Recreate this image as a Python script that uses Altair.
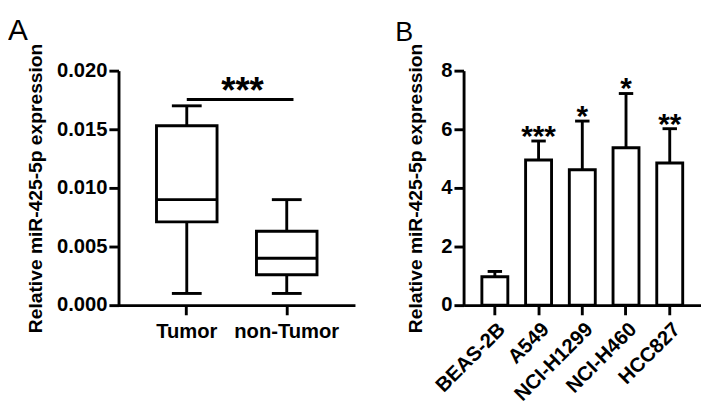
import altair as alt
import pandas as pd

# ---- Panel A: box plot summary ----
groups_a = ["Tumor", "non-Tumor"]
a_min = [0.001, 0.001]
a_q1 = [0.0071, 0.0026]
a_median = [0.009, 0.004]
a_q3 = [0.0153, 0.0063]
a_max = [0.017, 0.009]
sig_a_y = [0.01754]
star_a_y = [0.0190]
star_a_label = ["***"]

# ---- Panel B: bar chart with error bars ----
cells_b = ["BEAS-2B", "A549", "NCI-H1299", "NCI-H460", "HCC827"]
b_mean = [0.97, 4.95, 4.62, 5.37, 4.85]
b_upper = [1.15, 5.6, 6.28, 7.22, 6.02]
b_stars = ["", "***", "*", "*", "**"]

YTITLE = "Relative miR-425-5p expression"
H = 244
FONT = "Liberation Sans"
FS = 21

df_a = pd.DataFrame(dict(group=groups_a, lo=a_min, q1=a_q1, med=a_median, q3=a_q3, hi=a_max))
df_sig = pd.DataFrame(dict(group=[groups_a[0]], group2=[groups_a[1]], y=sig_a_y, sy=star_a_y, lab=star_a_label))

xa_scale = alt.Scale(domain=groups_a, paddingInner=0.365, paddingOuter=0.365)
ya_scale = alt.Scale(domain=[0, 0.02], nice=False)


def xa():
    return alt.X("group:N", scale=xa_scale, sort=groups_a,
                 axis=alt.Axis(title=None, labelAngle=0, labelPadding=7))


def ya(field):
    return alt.Y(field, scale=ya_scale, title=YTITLE,
                 axis=alt.Axis(values=[0, 0.005, 0.01, 0.015, 0.02], format=".3f",
                               title=YTITLE, titlePadding=12))


base_a = alt.Chart(df_a)
box = base_a.mark_bar(width=63, fill="white", stroke="black", strokeWidth=3).encode(
    x=xa(), y=ya("q1:Q"), y2="q3:Q")
wlo = base_a.mark_rule(color="black", strokeWidth=3).encode(x=xa(), y=ya("lo:Q"), y2="q1:Q")
whi = base_a.mark_rule(color="black", strokeWidth=3).encode(x=xa(), y=ya("q3:Q"), y2="hi:Q")
cap_lo = base_a.mark_tick(color="black", size=31, thickness=3, opacity=1).encode(x=xa(), y=ya("lo:Q"))
cap_hi = base_a.mark_tick(color="black", size=31, thickness=3, opacity=1).encode(x=xa(), y=ya("hi:Q"))
med = base_a.mark_tick(color="black", size=63, thickness=3, opacity=1).encode(x=xa(), y=ya("med:Q"))
sig_line = alt.Chart(df_sig).mark_rule(color="black", strokeWidth=3, x2Offset=7).encode(
    x=xa(), x2="group2:N", y=ya("y:Q"))
sig_txt = alt.Chart(df_sig).mark_text(fontSize=38, fontWeight="bold", font=FONT, color="black",
                                      baseline="alphabetic", align="center", dy=21, xOffset=58).encode(
    x=xa(), y=ya("sy:Q"), text="lab:N")

panel_a = alt.layer(box, wlo, whi, cap_lo, cap_hi, med, sig_line, sig_txt).properties(
    width=246, height=H,
    title=alt.Title("A", anchor="start", frame="group", dx=-115, dy=-8, fontSize=31,
                    fontWeight="normal", font=FONT, baseline="top", offset=-12, color="black"))

# ---- Panel B ----
df_b = pd.DataFrame(dict(cell=cells_b, mean=b_mean, up=b_upper, star=b_stars))
xb_scale = alt.Scale(domain=cells_b, paddingInner=0.4, paddingOuter=0.415)
yb_scale = alt.Scale(domain=[0, 8], nice=False)


def xb():
    return alt.X("cell:N", scale=xb_scale, sort=cells_b,
                 axis=alt.Axis(title=None, labelAngle=-45, labelPadding=4))


def yb(field):
    return alt.Y(field, scale=yb_scale, title=YTITLE,
                 axis=alt.Axis(values=[0, 2, 4, 6, 8], title=YTITLE, titlePadding=16))


base_b = alt.Chart(df_b)
err = base_b.mark_rule(color="black", strokeWidth=3).encode(x=xb(), y=yb("mean:Q"), y2="up:Q")
err_cap = base_b.mark_tick(color="black", size=15, thickness=3, opacity=1).encode(x=xb(), y=yb("up:Q"))
bars = base_b.mark_bar(width=27, fill="white", stroke="black", strokeWidth=3).encode(
    x=xb(), y=yb("mean:Q"))
stars = base_b.mark_text(fontSize=31, fontWeight="bold", font=FONT, color="black",
                         baseline="alphabetic", align="center", dy=5).encode(
    x=xb(), y=yb("up:Q"), text="star:N")

panel_b = alt.layer(err, err_cap, bars, stars).properties(
    width=247, height=H,
    title=alt.Title("B", anchor="start", frame="group", dx=-71, dy=-8, fontSize=28,
                    fontWeight="normal", font=FONT, baseline="top", offset=-12, color="black"))

chart = alt.hconcat(panel_a, panel_b, spacing=42).properties(padding=0).configure(
    font=FONT).configure_view(stroke=None).configure_axis(
    labelFont=FONT, titleFont=FONT, labelFontSize=FS, titleFontSize=20,
    labelFontWeight="bold", titleFontWeight="bold", labelColor="black", titleColor="black",
    domainColor="black", tickColor="black", domainWidth=3, tickWidth=3, tickSize=10,
    grid=False, labelPadding=2)

chart.save("out.html", embed_options={"renderer": "svg", "actions": False})
